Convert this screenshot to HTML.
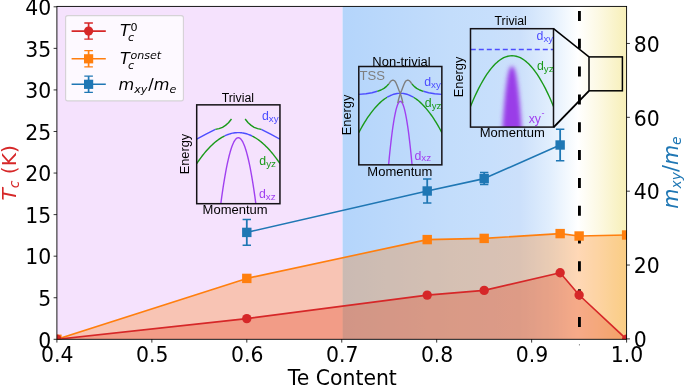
<!DOCTYPE html>
<html lang="en"><head><meta charset="utf-8"><title>Phase diagram</title>
<style>html,body{margin:0;padding:0;background:#fff}svg{display:block;will-change:transform;-webkit-font-smoothing:antialiased}</style>
</head><body>
<svg width="685" height="386" viewBox="0 0 685 386" role="img" aria-label="Phase diagram: Tc and effective mass versus Te content">
<defs>
<clipPath id="ax"><rect x="56.9" y="6.4" width="569.7" height="332.9"/></clipPath>
<linearGradient id="gb" x1="0" x2="1" y1="0" y2="0"><stop offset="0" stop-color="#b4d5fb"/><stop offset="0.246" stop-color="#bcd9fb"/><stop offset="0.458" stop-color="#c3ddfb"/><stop offset="0.627" stop-color="#c7dffc"/><stop offset="0.754" stop-color="#cce0fb"/><stop offset="0.818" stop-color="#d6e7fc"/><stop offset="0.881" stop-color="#e1eefd"/><stop offset="0.958" stop-color="#f4f9fe"/><stop offset="1" stop-color="#ffffff"/></linearGradient>
<linearGradient id="gy" x1="0" x2="1" y1="0" y2="0"><stop offset="0" stop-color="#ffffff"/><stop offset="0.45" stop-color="#fcf8e1"/><stop offset="0.885" stop-color="#f8f1c0"/><stop offset="1" stop-color="#f7efb8"/></linearGradient>
<filter id="blur" x="-30%" y="-30%" width="160%" height="160%"><feGaussianBlur stdDeviation="1.9"/></filter>
</defs>
<rect width="685" height="386" fill="#fff"/>
<rect x="56.9" y="6.4" width="285.7" height="332.9" fill="#f5e2fd"/>
<rect x="342.6" y="6.4" width="235.4" height="332.9" fill="url(#gb)"/>
<rect x="578" y="6.4" width="48.6" height="332.9" fill="url(#gy)"/>
<g clip-path="url(#ax)">
<polygon points="56.9,339.3 246.8,318.6 427.21,295.1 484.18,290.4 560.14,272.8 579.12,295 626.6,339.3 56.9,339.3" fill="#d62728" fill-opacity="0.3"/>
<polygon points="56.9,339.3 246.8,278.4 427.21,239.6 484.18,238.4 560.14,233.6 579.12,236 626.6,235 626.6,339.3 56.9,339.3" fill="#ff7f0e" fill-opacity="0.3"/>
<line x1="579.42" y1="0" x2="579.42" y2="339.3" stroke="#000" stroke-width="2.9" stroke-dasharray="10 17.83" stroke-dashoffset="-10.9"/>
<polyline points="56.9,339.3 246.8,278.4 427.21,239.6 484.18,238.4 560.14,233.6 579.12,236 626.6,235" fill="none" stroke="#ff7f0e" stroke-width="1.6" stroke-linejoin="round"/>
<polyline points="56.9,339.3 246.8,318.6 427.21,295.1 484.18,290.4 560.14,272.8 579.12,295 626.6,339.3" fill="none" stroke="#d62728" stroke-width="1.6" stroke-linejoin="round"/>
<polyline points="246.8,232.4 427.21,191 484.18,178.6 560.14,145" fill="none" stroke="#1f77b4" stroke-width="1.6" stroke-linejoin="round"/>
<path d="M246.8 219.5V245.3" stroke="#1f77b4" stroke-width="1.8" fill="none"/>
<path d="M242.6 219.5h8.4M242.6 245.3h8.4" stroke="#1f77b4" stroke-width="1.5" fill="none"/>
<path d="M427.21 179V203" stroke="#1f77b4" stroke-width="1.8" fill="none"/>
<path d="M423.01 179h8.4M423.01 203h8.4" stroke="#1f77b4" stroke-width="1.5" fill="none"/>
<path d="M484.18 172.6V184.6" stroke="#1f77b4" stroke-width="1.8" fill="none"/>
<path d="M479.98 172.6h8.4M479.98 184.6h8.4" stroke="#1f77b4" stroke-width="1.5" fill="none"/>
<path d="M560.14 129.3V160.7" stroke="#1f77b4" stroke-width="1.8" fill="none"/>
<path d="M555.94 129.3h8.4M555.94 160.7h8.4" stroke="#1f77b4" stroke-width="1.5" fill="none"/>
<rect x="52.2" y="334.6" width="9.4" height="9.4" fill="#ff7f0e"/>
<rect x="242.1" y="273.7" width="9.4" height="9.4" fill="#ff7f0e"/>
<rect x="422.51" y="234.9" width="9.4" height="9.4" fill="#ff7f0e"/>
<rect x="479.48" y="233.7" width="9.4" height="9.4" fill="#ff7f0e"/>
<rect x="555.44" y="228.9" width="9.4" height="9.4" fill="#ff7f0e"/>
<rect x="574.42" y="231.3" width="9.4" height="9.4" fill="#ff7f0e"/>
<rect x="621.9" y="230.3" width="9.4" height="9.4" fill="#ff7f0e"/>
<circle cx="56.9" cy="339.3" r="4.7" fill="#d62728"/>
<circle cx="246.8" cy="318.6" r="4.7" fill="#d62728"/>
<circle cx="427.21" cy="295.1" r="4.7" fill="#d62728"/>
<circle cx="484.18" cy="290.4" r="4.7" fill="#d62728"/>
<circle cx="560.14" cy="272.8" r="4.7" fill="#d62728"/>
<circle cx="579.12" cy="295" r="4.7" fill="#d62728"/>
<circle cx="626.6" cy="339.3" r="4.7" fill="#d62728"/>
<rect x="242.1" y="227.7" width="9.4" height="9.4" fill="#1f77b4"/>
<rect x="422.51" y="186.3" width="9.4" height="9.4" fill="#1f77b4"/>
<rect x="479.48" y="173.9" width="9.4" height="9.4" fill="#1f77b4"/>
<rect x="555.44" y="140.3" width="9.4" height="9.4" fill="#1f77b4"/>
</g>
<clipPath id="c1"><rect x="196.7" y="104.85" width="83.25" height="98.85"/></clipPath>
<g clip-path="url(#c1)">
<polyline points="196.7,163.6 197.86,161.89 199.02,160.23 200.19,158.62 201.35,157.06 202.51,155.55 203.67,154.08 204.84,152.66 206,151.3 207.16,149.97 208.32,148.7 209.49,147.48 210.65,146.3 211.81,145.18 212.97,144.1 214.14,143.07 215.3,142.09 216.46,141.15 217.62,140.27 218.79,139.43 219.95,138.64 221.11,137.9 222.28,137.21 223.44,136.57 224.6,135.97" fill="none" stroke="#1a9a1a" stroke-width="1.4" stroke-linecap="butt" stroke-linejoin="round"/>
<polyline points="252.2,136.04 253.36,136.64 254.51,137.29 255.67,137.98 256.82,138.72 257.98,139.51 259.14,140.35 260.29,141.24 261.45,142.17 262.61,143.15 263.76,144.18 264.92,145.25 266.07,146.38 267.23,147.55 268.39,148.77 269.54,150.04 270.7,151.35 271.86,152.72 273.01,154.13 274.17,155.59 275.32,157.09 276.48,158.65 277.64,160.25 278.79,161.9 279.95,163.6" fill="none" stroke="#1a9a1a" stroke-width="1.4" stroke-linecap="butt" stroke-linejoin="round"/>
<polyline points="224.6,135.97 225.75,135.43 226.9,134.94 228.05,134.49 229.2,134.09 230.35,133.74 231.5,133.43 232.65,133.18 233.8,132.97 234.95,132.8 236.1,132.69 237.25,132.62 238.4,132.6 239.55,132.63 240.7,132.7 241.85,132.82 243,132.99 244.15,133.21 245.3,133.47 246.45,133.78 247.6,134.14 248.75,134.54 249.9,135 251.05,135.5 252.2,136.04" fill="none" stroke="#4d4dff" stroke-width="1.4" stroke-linecap="butt" stroke-linejoin="round"/>
<polyline points="196.7,139.2 206,134.2 215.4,129.4" fill="none" stroke="#4d4dff" stroke-width="1.4" stroke-linecap="butt" stroke-linejoin="round"/>
<polyline points="279.95,139.2 270.65,134.2 261.25,129.4" fill="none" stroke="#4d4dff" stroke-width="1.4" stroke-linecap="butt" stroke-linejoin="round"/>
<polyline points="215.4,129.4 219,128.6 222.5,127.3 225.5,125.4 228.5,122.8 231.5,119" fill="none" stroke="#1a9a1a" stroke-width="1.4" stroke-linecap="butt" stroke-linejoin="round"/>
<polyline points="261.25,129.4 257.65,128.6 254.15,127.3 251.15,125.4 248.15,122.8 245.15,119" fill="none" stroke="#1a9a1a" stroke-width="1.4" stroke-linecap="butt" stroke-linejoin="round"/>
<polyline points="220,209.86 220.92,202.83 221.83,196.15 222.75,189.84 223.66,183.88 224.58,178.29 225.5,173.06 226.41,168.19 227.33,163.68 228.25,159.53 229.16,155.74 230.08,152.31 231,149.25 231.91,146.54 232.83,144.19 233.74,142.21 234.66,140.59 235.58,139.32 236.49,138.42 237.41,137.88 238.32,137.7 239.24,137.88 240.16,138.42 241.07,139.32 241.99,140.59 242.91,142.21 243.82,144.19 244.74,146.54 245.65,149.25 246.57,152.31 247.49,155.74 248.4,159.53 249.32,163.68 250.24,168.19 251.15,173.06 252.07,178.29 252.98,183.88 253.9,189.84 254.82,196.15 255.73,202.83 256.65,209.86" fill="none" stroke="#a040f0" stroke-width="1.4" stroke-linecap="butt" stroke-linejoin="round"/>
</g>
<rect x="196.7" y="104.85" width="83.25" height="98.85" fill="none" stroke="#141216" stroke-width="1.5"/>
<text x="237.82" y="102.1" font-family="'Liberation Sans','DejaVu Sans',sans-serif" font-size="12.3" fill="#000" text-anchor="middle">Trivial</text>
<text x="235.12" y="213.7" font-family="'Liberation Sans','DejaVu Sans',sans-serif" font-size="12.3" fill="#000" text-anchor="middle" textLength="65" lengthAdjust="spacingAndGlyphs">Momentum</text>
<text transform="translate(188.6 154.1) rotate(-90)" font-family="'Liberation Sans','DejaVu Sans',sans-serif" font-size="12.8" fill="#000" text-anchor="middle">Energy</text>
<text x="262" y="120.3" font-family="'Liberation Sans','DejaVu Sans',sans-serif" font-size="12.3" fill="#4d4dff">d<tspan font-size="9.8" dy="1.9">xy</tspan></text>
<text x="259.3" y="165.3" font-family="'Liberation Sans','DejaVu Sans',sans-serif" font-size="12.3" fill="#1a9a1a">d<tspan font-size="9.8" dy="1.9">yz</tspan></text>
<text x="259" y="197.7" font-family="'Liberation Sans','DejaVu Sans',sans-serif" font-size="12.3" fill="#a040f0">d<tspan font-size="9.8" dy="1.9">xz</tspan></text>
<clipPath id="c2"><rect x="358.8" y="66.5" width="83.05" height="98.35"/></clipPath>
<g clip-path="url(#c2)">
<polyline points="358.8,132.6 359.98,130.39 361.17,128.25 362.35,126.17 363.53,124.15 364.72,122.2 365.9,120.31 367.08,118.48 368.27,116.72 369.45,115.03 370.63,113.39 371.82,111.82 373,110.32 374.18,108.88 375.37,107.5 376.55,106.18 377.73,104.93 378.92,103.75 380.1,102.62 381.28,101.56 382.47,100.57 383.65,99.64 384.83,98.77 386.02,97.97 387.2,97.23" fill="none" stroke="#1a9a1a" stroke-width="1.4" stroke-linecap="butt" stroke-linejoin="round"/>
<polyline points="413.45,97.23 414.63,97.97 415.82,98.77 417,99.64 418.18,100.57 419.37,101.56 420.55,102.62 421.73,103.75 422.92,104.93 424.1,106.18 425.28,107.5 426.47,108.88 427.65,110.32 428.83,111.82 430.02,113.39 431.2,115.03 432.38,116.72 433.57,118.48 434.75,120.31 435.93,122.2 437.12,124.15 438.3,126.17 439.48,128.25 440.67,130.39 441.85,132.6" fill="none" stroke="#1a9a1a" stroke-width="1.4" stroke-linecap="butt" stroke-linejoin="round"/>
<polyline points="387.2,97.23 388.29,96.6 389.39,96.03 390.48,95.51 391.57,95.04 392.67,94.64 393.76,94.28 394.86,93.98 395.95,93.74 397.04,93.55 398.14,93.41 399.23,93.33 400.33,93.3 401.42,93.33 402.51,93.41 403.61,93.55 404.7,93.74 405.79,93.98 406.89,94.28 407.98,94.64 409.08,95.04 410.17,95.51 411.26,96.03 412.36,96.6 413.45,97.23" fill="none" stroke="#4d4dff" stroke-width="1.4" stroke-linecap="butt" stroke-linejoin="round"/>
<polyline points="388,171.52 388.62,164.67 389.23,158.18 389.85,152.03 390.47,146.24 391.08,140.8 391.7,135.71 392.31,130.97 392.93,126.58 393.55,122.54 394.16,118.86 394.78,115.52 395.4,112.54 396.01,109.9 396.63,107.62 397.24,105.69 397.86,104.11 398.48,102.88 399.09,102 399.71,101.48 400.33,101.3 400.94,101.48 401.56,102 402.17,102.88 402.79,104.11 403.41,105.69 404.02,107.62 404.64,109.9 405.26,112.54 405.87,115.52 406.49,118.86 407.1,122.54 407.72,126.58 408.34,130.97 408.95,135.71 409.57,140.8 410.19,146.24 410.8,152.03 411.42,158.18 412.03,164.67 412.65,171.52" fill="none" stroke="#a040f0" stroke-width="1.4" stroke-linecap="butt" stroke-linejoin="round"/>
<polyline points="358.8,94.4 366,93.7 372,92.7 377.3,91.3" fill="none" stroke="#4d4dff" stroke-width="1.4" stroke-linecap="butt" stroke-linejoin="round"/>
<polyline points="441.85,94.4 434.65,93.7 428.65,92.7 423.35,91.3" fill="none" stroke="#4d4dff" stroke-width="1.4" stroke-linecap="butt" stroke-linejoin="round"/>
<polyline points="377.3,91.3 381,90 384,88.4 386.5,86.4 388.7,84" fill="none" stroke="#1a9a1a" stroke-width="1.4" stroke-linecap="butt" stroke-linejoin="round"/>
<polyline points="423.35,91.3 419.65,90 416.65,88.4 414.15,86.4 411.95,84" fill="none" stroke="#1a9a1a" stroke-width="1.4" stroke-linecap="butt" stroke-linejoin="round"/>
<polyline points="388.7,84 389.9,82.3 391.1,80.9 392.3,80.25 393.5,80.25 394.7,80.9 395.8,82.5 396.8,84.7 397.8,87.3 398.9,90.3 400.33,93.4 401.3,96.8 402.2,100 402.9,103.2" fill="none" stroke="#7f7f7f" stroke-width="1.4" stroke-linecap="butt" stroke-linejoin="round"/>
<polyline points="411.95,84 410.75,82.3 409.55,80.9 408.35,80.25 407.15,80.25 405.95,80.9 404.85,82.5 403.85,84.7 402.85,87.3 401.75,90.3 400.33,93.4 399.35,96.8 398.45,100 397.75,103.2" fill="none" stroke="#7f7f7f" stroke-width="1.4" stroke-linecap="butt" stroke-linejoin="round"/>
</g>
<rect x="358.8" y="66.5" width="83.05" height="98.35" fill="none" stroke="#141216" stroke-width="1.5"/>
<text x="401.53" y="65.9" font-family="'Liberation Sans','DejaVu Sans',sans-serif" font-size="12.3" fill="#000" text-anchor="middle" textLength="58.3" lengthAdjust="spacingAndGlyphs">Non-trivial</text>
<text x="359.6" y="79.6" font-family="'Liberation Sans','DejaVu Sans',sans-serif" font-size="13.1" fill="#7f7f7f" text-anchor="start">TSS</text>
<text x="399.83" y="175.8" font-family="'Liberation Sans','DejaVu Sans',sans-serif" font-size="12.3" fill="#000" text-anchor="middle" textLength="65" lengthAdjust="spacingAndGlyphs">Momentum</text>
<text transform="translate(351.4 115) rotate(-90)" font-family="'Liberation Sans','DejaVu Sans',sans-serif" font-size="12.8" fill="#000" text-anchor="middle">Energy</text>
<text x="424.2" y="86" font-family="'Liberation Sans','DejaVu Sans',sans-serif" font-size="12.3" fill="#4d4dff">d<tspan font-size="9.8" dy="1.9">xy</tspan></text>
<text x="424.8" y="107.4" font-family="'Liberation Sans','DejaVu Sans',sans-serif" font-size="12.3" fill="#1a9a1a">d<tspan font-size="9.8" dy="1.9">yz</tspan></text>
<text x="414.5" y="159.5" font-family="'Liberation Sans','DejaVu Sans',sans-serif" font-size="12.3" fill="#a040f0">d<tspan font-size="9.8" dy="1.9">xz</tspan></text>
<clipPath id="c3"><rect x="470.5" y="28.7" width="83" height="98.4"/></clipPath>
<g clip-path="url(#c3)">
<polygon points="501.6,140.76 502.12,132.48 502.64,124.74 503.16,117.54 503.68,110.87 504.2,104.72 504.72,99.08 505.24,93.95 505.76,89.3 506.28,85.13 506.8,81.42 507.32,78.17 507.84,75.35 508.36,72.96 508.88,70.97 509.4,69.37 509.92,68.14 510.44,67.25 510.96,66.67 511.48,66.38 512,66.3 512.52,66.38 513.04,66.67 513.56,67.25 514.08,68.14 514.6,69.37 515.12,70.97 515.64,72.96 516.16,75.35 516.68,78.17 517.2,81.42 517.72,85.13 518.24,89.3 518.76,93.95 519.28,99.08 519.8,104.72 520.32,110.87 520.84,117.54 521.36,124.74 521.88,132.48 522.4,140.76" fill="#9a3ce8" filter="url(#blur)"/>
<polyline points="470.5,106.4 472.57,101.46 474.65,96.77 476.73,92.33 478.8,88.15 480.88,84.22 482.95,80.54 485.02,77.12 487.1,73.95 489.18,71.04 491.25,68.38 493.32,65.97 495.4,63.81 497.48,61.91 499.55,60.26 501.62,58.87 503.7,57.73 505.77,56.84 507.85,56.21 509.93,55.83 512,55.7 514.08,55.83 516.15,56.21 518.23,56.84 520.3,57.73 522.38,58.87 524.45,60.26 526.52,61.91 528.6,63.81 530.67,65.97 532.75,68.38 534.83,71.04 536.9,73.95 538.98,77.12 541.05,80.54 543.12,84.22 545.2,88.15 547.27,92.33 549.35,96.77 551.42,101.46 553.5,106.4" fill="none" stroke="#1a9a1a" stroke-width="1.4" stroke-linecap="butt" stroke-linejoin="round"/>
<line x1="470.5" y1="49.5" x2="553.5" y2="49.5" stroke="#4d4dff" stroke-width="1.4" stroke-dasharray="5 3" stroke-dashoffset="-0.3"/>
</g>
<rect x="470.5" y="28.7" width="83" height="98.4" fill="none" stroke="#141216" stroke-width="1.5"/>
<text x="510.7" y="24.8" font-family="'Liberation Sans','DejaVu Sans',sans-serif" font-size="12.3" fill="#000" text-anchor="middle">Trivial</text>
<text x="512.3" y="137.3" font-family="'Liberation Sans','DejaVu Sans',sans-serif" font-size="12.3" fill="#000" text-anchor="middle" textLength="65" lengthAdjust="spacingAndGlyphs">Momentum</text>
<text transform="translate(462.8 77) rotate(-90)" font-family="'Liberation Sans','DejaVu Sans',sans-serif" font-size="12.8" fill="#000" text-anchor="middle">Energy</text>
<text x="536.6" y="40.1" font-family="'Liberation Sans','DejaVu Sans',sans-serif" font-size="12.3" fill="#4d4dff">d<tspan font-size="9.8" dy="1.9">xy</tspan></text>
<text x="537" y="69.7" font-family="'Liberation Sans','DejaVu Sans',sans-serif" font-size="12.3" fill="#1a9a1a">d<tspan font-size="9.8" dy="1.9">yz</tspan></text>
<text x="528.7" y="122.9" font-family="'Liberation Sans','DejaVu Sans',sans-serif" font-size="12.3" fill="#a040f0">xy<tspan font-size="9" dy="-6.8" dx="0.6">-</tspan></text>
<rect x="589" y="56.9" width="33.4" height="33.9" fill="none" stroke="#000" stroke-width="1.5"/>
<path d="M553.5 28.7L589 56.9" stroke="#000" stroke-width="1.5" fill="none"/>
<path d="M553.5 127.4L589 90.8" stroke="#000" stroke-width="1.9" fill="none"/>
<rect x="56.9" y="6.4" width="569.7" height="332.9" fill="none" stroke="#000" stroke-width="0.9"/>
<path d="M53.6 339.3H56.9" stroke="#000" stroke-width="0.8"/>
<text x="51.3" y="347.6" font-family="'DejaVu Sans','Liberation Sans',sans-serif" font-size="20.4" text-anchor="end" fill="#000">0</text>
<path d="M53.6 297.74H56.9" stroke="#000" stroke-width="0.8"/>
<text x="51.3" y="306.04" font-family="'DejaVu Sans','Liberation Sans',sans-serif" font-size="20.4" text-anchor="end" fill="#000">5</text>
<path d="M53.6 256.18H56.9" stroke="#000" stroke-width="0.8"/>
<text x="51.3" y="264.48" font-family="'DejaVu Sans','Liberation Sans',sans-serif" font-size="20.4" text-anchor="end" fill="#000">10</text>
<path d="M53.6 214.61H56.9" stroke="#000" stroke-width="0.8"/>
<text x="51.3" y="222.91" font-family="'DejaVu Sans','Liberation Sans',sans-serif" font-size="20.4" text-anchor="end" fill="#000">15</text>
<path d="M53.6 173.05H56.9" stroke="#000" stroke-width="0.8"/>
<text x="51.3" y="181.35" font-family="'DejaVu Sans','Liberation Sans',sans-serif" font-size="20.4" text-anchor="end" fill="#000">20</text>
<path d="M53.6 131.49H56.9" stroke="#000" stroke-width="0.8"/>
<text x="51.3" y="139.79" font-family="'DejaVu Sans','Liberation Sans',sans-serif" font-size="20.4" text-anchor="end" fill="#000">25</text>
<path d="M53.6 89.93H56.9" stroke="#000" stroke-width="0.8"/>
<text x="51.3" y="98.23" font-family="'DejaVu Sans','Liberation Sans',sans-serif" font-size="20.4" text-anchor="end" fill="#000">30</text>
<path d="M53.6 48.36H56.9" stroke="#000" stroke-width="0.8"/>
<text x="51.3" y="56.66" font-family="'DejaVu Sans','Liberation Sans',sans-serif" font-size="20.4" text-anchor="end" fill="#000">35</text>
<path d="M53.6 6.8H56.9" stroke="#000" stroke-width="0.8"/>
<text x="51.3" y="15.1" font-family="'DejaVu Sans','Liberation Sans',sans-serif" font-size="20.4" text-anchor="end" fill="#000">40</text>
<path d="M56.9 339.3V342.6" stroke="#000" stroke-width="0.8"/>
<text x="57.3" y="361.6" font-family="'DejaVu Sans','Liberation Sans',sans-serif" font-size="20.4" text-anchor="middle" fill="#000">0.4</text>
<path d="M151.85 339.3V342.6" stroke="#000" stroke-width="0.8"/>
<text x="152.25" y="361.6" font-family="'DejaVu Sans','Liberation Sans',sans-serif" font-size="20.4" text-anchor="middle" fill="#000">0.5</text>
<path d="M246.8 339.3V342.6" stroke="#000" stroke-width="0.8"/>
<text x="247.2" y="361.6" font-family="'DejaVu Sans','Liberation Sans',sans-serif" font-size="20.4" text-anchor="middle" fill="#000">0.6</text>
<path d="M341.75 339.3V342.6" stroke="#000" stroke-width="0.8"/>
<text x="342.15" y="361.6" font-family="'DejaVu Sans','Liberation Sans',sans-serif" font-size="20.4" text-anchor="middle" fill="#000">0.7</text>
<path d="M436.7 339.3V342.6" stroke="#000" stroke-width="0.8"/>
<text x="437.1" y="361.6" font-family="'DejaVu Sans','Liberation Sans',sans-serif" font-size="20.4" text-anchor="middle" fill="#000">0.8</text>
<path d="M531.65 339.3V342.6" stroke="#000" stroke-width="0.8"/>
<text x="532.05" y="361.6" font-family="'DejaVu Sans','Liberation Sans',sans-serif" font-size="20.4" text-anchor="middle" fill="#000">0.9</text>
<path d="M626.6 339.3V342.6" stroke="#000" stroke-width="0.8"/>
<text x="627" y="361.6" font-family="'DejaVu Sans','Liberation Sans',sans-serif" font-size="20.4" text-anchor="middle" fill="#000">1.0</text>
<path d="M626.6 338.9H629.9" stroke="#000" stroke-width="0.8"/>
<text x="633.7" y="347.1" font-family="'DejaVu Sans','Liberation Sans',sans-serif" font-size="20.4" text-anchor="start" fill="#000">0</text>
<path d="M626.6 265.04H629.9" stroke="#000" stroke-width="0.8"/>
<text x="633.7" y="273.24" font-family="'DejaVu Sans','Liberation Sans',sans-serif" font-size="20.4" text-anchor="start" fill="#000">20</text>
<path d="M626.6 191.18H629.9" stroke="#000" stroke-width="0.8"/>
<text x="633.7" y="199.38" font-family="'DejaVu Sans','Liberation Sans',sans-serif" font-size="20.4" text-anchor="start" fill="#000">40</text>
<path d="M626.6 117.32H629.9" stroke="#000" stroke-width="0.8"/>
<text x="633.7" y="125.52" font-family="'DejaVu Sans','Liberation Sans',sans-serif" font-size="20.4" text-anchor="start" fill="#000">60</text>
<path d="M626.6 43.46H629.9" stroke="#000" stroke-width="0.8"/>
<text x="633.7" y="51.66" font-family="'DejaVu Sans','Liberation Sans',sans-serif" font-size="20.4" text-anchor="start" fill="#000">80</text>
<rect x="578.92" y="344.2" width="1" height="1.2" fill="#777"/>
<text x="342.3" y="385.1" font-family="'DejaVu Sans','Liberation Sans',sans-serif" font-size="20.4" text-anchor="middle" fill="#000">Te Content</text>
<text transform="translate(16 172.9) rotate(-90)" font-family="'DejaVu Sans','Liberation Sans',sans-serif" font-size="20.2" text-anchor="middle" fill="#d62728"><tspan font-style="italic">T</tspan><tspan font-style="italic" font-size="13.9" dy="3.2">c</tspan><tspan dy="-3.2"> (K)</tspan></text>
<text transform="translate(678.2 172.5) rotate(-90)" font-family="'DejaVu Sans','Liberation Sans',sans-serif" font-size="20.7" text-anchor="middle" fill="#1f77b4" font-style="italic">m<tspan font-size="13.9" dy="3.2">xy</tspan><tspan dy="-3.2" font-style="normal">/</tspan>m<tspan font-size="13.9" dy="3.2">e</tspan></text>
<rect x="65.6" y="15.6" width="117.8" height="85.3" rx="2.2" ry="2.2" fill="#fff" fill-opacity="0.8" stroke="#ccc" stroke-opacity="0.8" stroke-width="1.1"/>
<path d="M71.6 31.1H105.8" stroke="#d62728" stroke-width="1.6" fill="none"/>
<path d="M88.6 23V39.2" stroke="#d62728" stroke-width="1.7" fill="none"/>
<path d="M84.3 23h8.6M84.3 39.2h8.6" stroke="#d62728" stroke-width="1.3" fill="none"/>
<circle cx="88.6" cy="31.1" r="4.6" fill="#d62728"/>
<path d="M71.6 58.8H105.8" stroke="#ff7f0e" stroke-width="1.6" fill="none"/>
<path d="M88.6 50.7V66.9" stroke="#ff7f0e" stroke-width="1.7" fill="none"/>
<path d="M84.3 50.7h8.6M84.3 66.9h8.6" stroke="#ff7f0e" stroke-width="1.3" fill="none"/>
<rect x="84.0" y="54.2" width="9.2" height="9.2" fill="#ff7f0e"/>
<path d="M71.6 84.3H105.8" stroke="#1f77b4" stroke-width="1.6" fill="none"/>
<path d="M88.6 76.2V92.4" stroke="#1f77b4" stroke-width="1.7" fill="none"/>
<path d="M84.3 76.2h8.6M84.3 92.4h8.6" stroke="#1f77b4" stroke-width="1.3" fill="none"/>
<rect x="84.0" y="79.7" width="9.2" height="9.2" fill="#1f77b4"/>
<text x="120.0" y="36.3" font-family="'DejaVu Sans','Liberation Sans',sans-serif" font-size="16.1" fill="#000"><tspan font-style="italic">T</tspan><tspan font-size="11.1" dy="-5.7" dx="0.6">0</tspan></text>
<text x="128.0" y="40.7" font-family="'DejaVu Sans','Liberation Sans',sans-serif" font-size="11.1" font-style="italic" fill="#000">c</text>
<text x="120.0" y="64.4" font-family="'DejaVu Sans','Liberation Sans',sans-serif" font-size="16.1" fill="#000" font-style="italic">T<tspan font-size="11.1" dy="-5.7" dx="0.6">onset</tspan></text>
<text x="128.0" y="68.8" font-family="'DejaVu Sans','Liberation Sans',sans-serif" font-size="11.1" font-style="italic" fill="#000">c</text>
<text x="118.6" y="90.0" font-family="'DejaVu Sans','Liberation Sans',sans-serif" font-size="16.1" fill="#000" font-style="italic">m<tspan font-size="11.1" dy="2.6">xy</tspan><tspan dy="-2.6" dx="0.9" font-style="normal">/</tspan>m<tspan font-size="11.1" dy="2.6">e</tspan></text>
</svg>
</body></html>
